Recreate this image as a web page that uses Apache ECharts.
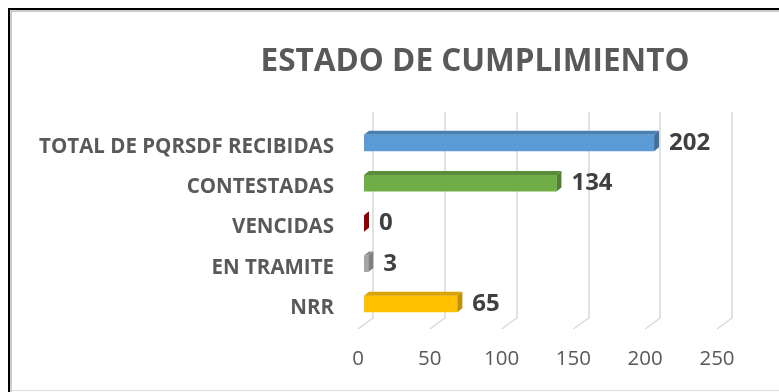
<!DOCTYPE html>
<html>
<head>
<meta charset="utf-8">
<script src="https://cdn.jsdelivr.net/npm/echarts@6/dist/echarts.min.js"></script>
<style>
  html, body { margin: 0; padding: 0; background: #ffffff; }
  #chart { width: 779px; height: 392px; }
</style>
</head>
<body>
<div id="chart"></div>
<script>
// Categories (top to bottom) and their counts
const categories = ['TOTAL DE PQRSDF RECIBIDAS', 'CONTESTADAS', 'VENCIDAS', 'EN TRAMITE', 'NRR'];
const values = [202, 134, 0, 3, 65];
const xTicks = [0, 50, 100, 150, 200, 250];

// Face colours per bar: front, top, side
const frontColors = ['#5b9bd5', '#70ad47', '#c00000', '#a5a5a5', '#ffc000'];
const topColors   = ['#4a7fb3', '#5a8c39', '#a00000', '#8c8c8c', '#d9a300'];
const sideColors  = ['#41709c', '#507e32', '#8b0000', '#7f7f7f', '#bf9000'];

const FONT = '"Open Sans", "DejaVu Sans", sans-serif';

// Oblique projection used for the pseudo-3D look
const BAR_SHIFT = [6, -4];   // bar front face relative to the front plane
const BAR_DEPTH = [5, -4];   // bar thickness going backwards
const WALL = [15, -11];      // back wall relative to the front plane

const chart = echarts.init(document.getElementById('chart'), null, { renderer: 'canvas' });

const xMin = xTicks[0];
const xMax = xTicks[xTicks.length - 1];

const option = {
  backgroundColor: '#ffffff',
  animation: false,
  title: {
    text: 'ESTADO DE CUMPLIMIENTO',
    left: 470,
    top: 41,
    textAlign: 'center',
    textStyle: { fontFamily: FONT, fontWeight: 'bold', fontSize: 31.5, color: '#595959' }
  },
  grid: [
    { left: 358, right: 62, top: 127, bottom: 64 },
    { left: 373, right: 47, top: 112, bottom: 73 }
  ],
  xAxis: [
    {
      type: 'value', gridIndex: 0, min: xMin, max: xMax, interval: 50,
      axisLine: { show: false }, axisTick: { show: false }, splitLine: { show: false },
      axisLabel: { color: '#595959', fontFamily: FONT, fontSize: 20.5, margin: 21 }
    },
    {
      type: 'value', gridIndex: 1, min: xMin, max: xMax, interval: 50,
      axisLine: { show: false }, axisTick: { show: false }, axisLabel: { show: false },
      splitLine: { show: true, lineStyle: { color: '#d9d9d9', width: 1.5 } }
    }
  ],
  yAxis: [
    {
      type: 'category', gridIndex: 0, data: categories, inverse: true,
      axisLine: { show: false }, axisTick: { show: false },
      axisLabel: { color: '#595959', fontFamily: FONT, fontWeight: 'bold', fontSize: 20.5, margin: 24 }
    },
    {
      type: 'category', gridIndex: 1, data: categories, inverse: true, show: false
    }
  ],
  series: [
    {
      // floor edges: short oblique segments joining the back wall gridlines to the front plane
      type: 'custom',
      xAxisIndex: 0, yAxisIndex: 0,
      data: xTicks.map(t => [t]),
      silent: true,
      renderItem: function (params, api) {
        const v = api.value(0);
        const base = api.coord([v, categories.length - 1]);
        const half = api.size([0, 1])[1] / 2;
        const y0 = base[1] + half + 1;
        return {
          type: 'line',
          shape: { x1: base[0], y1: y0, x2: base[0] + WALL[0], y2: y0 + WALL[1] },
          style: { stroke: '#d9d9d9', lineWidth: 1.5 }
        };
      }
    },
    {
      type: 'custom',
      xAxisIndex: 0, yAxisIndex: 0,
      data: values.map((v, i) => [v, i]),
      renderItem: function (params, api) {
        const v = api.value(0);
        const idx = api.value(1);
        const p0 = api.coord([0, idx]);
        const p1 = api.coord([v, idx]);
        const band = api.size([0, 1])[1];
        const h = band * 0.41;
        const x0 = p0[0] + BAR_SHIFT[0];
        const x1 = p1[0] + BAR_SHIFT[0];
        const yc = p0[1] + BAR_SHIFT[1];
        const yt = yc - h / 2;
        const yb = yc + h / 2;
        const dx = BAR_DEPTH[0], dy = BAR_DEPTH[1];
        const children = [];
        if (x1 - x0 > 0.01) {
          children.push({
            type: 'rect',
            shape: { x: x0, y: yt, width: x1 - x0, height: h },
            style: { fill: frontColors[idx] }
          });
          children.push({
            type: 'polygon',
            shape: { points: [[x0, yt], [x1, yt], [x1 + dx, yt + dy], [x0 + dx, yt + dy]] },
            style: { fill: topColors[idx] }
          });
        }
        children.push({
          type: 'polygon',
          shape: { points: [[x1, yt], [x1 + dx, yt + dy], [x1 + dx, yb + dy], [x1, yb]] },
          style: { fill: sideColors[idx] }
        });
        children.push({
          type: 'text',
          style: {
            x: x1 + dx + 10,
            y: yc,
            text: String(v),
            fill: '#404040',
            font: 'bold 24px ' + FONT,
            textAlign: 'left',
            textVerticalAlign: 'middle'
          }
        });
        return { type: 'group', children: children };
      }
    }
  ],
  graphic: [
    {
      type: 'rect',
      shape: { x: 9, y: 9, width: 820, height: 420 },
      style: { fill: null, stroke: '#000000', lineWidth: 2 },
      silent: true
    },
    {
      type: 'rect',
      shape: { x: 11, y: 11, width: 820, height: 420 },
      style: { fill: null, stroke: '#9a9a9a', lineWidth: 1 },
      silent: true
    },
    {
      type: 'line',
      shape: { x1: 11, y1: 390.5, x2: 779, y2: 390.5 },
      style: { stroke: '#dcdcdc', lineWidth: 1 },
      silent: true
    }
  ]
};

chart.setOption(option);
</script>
</body>
</html>
